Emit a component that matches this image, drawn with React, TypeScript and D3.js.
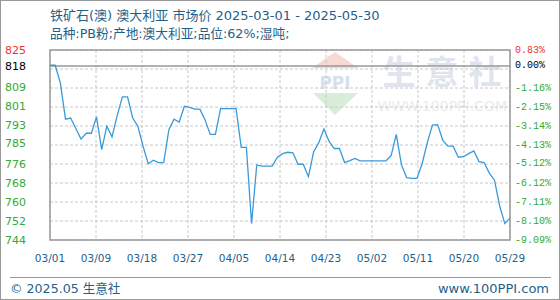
import React from "react";
import * as d3 from "d3";

const W = 560;
const H = 300;
const M = { left: 50, right: 510, top: 50, bottom: 240 };

const titleLine1 = "铁矿石(澳) 澳大利亚 市场价 2025-03-01 - 2025-05-30";
const titleLine2 = "品种:PB粉;产地:澳大利亚;品位:62%;湿吨;";
const footerLeft = "© 2025.05 生意社";
const footerRight = "www.100PPI.com";

const startDate = new Date(2025, 2, 1);

// daily prices 03/01 .. 05/29
const prices = [
  818.5, 818.5, 811, 795.5, 796, 791.5, 787, 789.5, 789.5, 796.5,
  782.5, 792.5, 788, 797, 805, 805, 796, 792.5, 784, 776.5,
  778, 777, 777, 791, 795.5, 794.3, 801, 800.5, 799.8, 799.8,
  795.2, 789, 789, 800, 800, 800, 800, 783.5, 783.5, 751,
  776, 775.5, 775.5, 775.5, 779.3, 780.8, 781.4, 781.2, 776.3, 776.3,
  771, 781.5, 785.5, 791.3, 786, 783, 783, 777, 777.8, 778.8,
  777.7, 777.7, 777.7, 777.7, 777.7, 777.7, 780, 789, 776, 770.6,
  770.3, 770.3, 776.5, 785.5, 793, 793.2, 786.5, 784, 784, 779.3,
  779.5, 780.8, 782, 777.4, 777, 772.5, 769.5, 758.5, 751, 753.3,
];

const xTickLabels = ["03/01", "03/09", "03/18", "03/27", "04/05", "04/14", "04/23", "05/02", "05/11", "05/20", "05/29"];
const leftLabels = ["825", "818", "809", "801", "793", "785", "776", "768", "760", "752", "744"];
const rightLabels = ["0.83%", "0.00%", "-1.16%", "-2.15%", "-3.14%", "-4.13%", "-5.12%", "-6.12%", "-7.11%", "-8.10%", "-9.09%"];

const BLUE_TEXT = "#1f5f8b";
const GREEN = "#33aa33";
const RED = "#ee3333";
const MIXED_FONT = "'DejaVu Sans', 'Noto Sans CJK SC', sans-serif";

export default function App() {
  const n = prices.length;
  const xScale = d3.scaleLinear().domain([0, n - 1]).range([M.left, M.right]);
  const yScale = d3.scaleLinear().domain([744, 825]).range([M.bottom, M.top]);
  const pctScale = d3.scaleLinear().domain([-9.09, 0.83]).range([M.bottom, M.top]);

  const data = prices.map((p, i) => ({ date: d3.timeDay.offset(startDate, i), i, p }));
  const line = d3
    .line<{ i: number; p: number }>()
    .x((d) => xScale(d.i))
    .y((d) => yScale(d.p));

  const gridYs = d3.range(11).map((k) => M.bottom - (k * (M.bottom - M.top)) / 10);
  const tickXs = xTickLabels.map((_, k) => xScale((k * (n - 1)) / (xTickLabels.length - 1)));
  const baseY = pctScale(0);

  const labelColor = (k: number) => (k === 0 ? RED : k === 1 ? "#000" : GREEN);

  return (
    <svg
      width={W}
      height={H}
      style={{ position: "absolute", left: 0, top: 0, background: "#fff" }}
      fontFamily={MIXED_FONT}
    >
      <rect x={0.5} y={0.5} width={W - 1} height={H - 1} fill="#fff" stroke="#999" />

      {/* titles */}
      <text x={50} y={15} fontSize={13} fill={BLUE_TEXT} dominantBaseline="central">
        {titleLine1}
      </text>
      <text x={50} y={33} fontSize={12.7} fill={BLUE_TEXT} dominantBaseline="central">
        {titleLine2}
      </text>

      {/* watermark */}
      <g>
        <polygon points="335,52 312,68 358,68" fill="#f8d8d2" />
        <text x={335} y={83} fontSize={17} fontWeight="bold" fill="#d9dfea" textAnchor="middle" dominantBaseline="central" fontFamily="'DejaVu Sans', sans-serif">
          PPI
        </text>
        <polygon points="313,93 358,93 335,115" fill="#d8eedb" />
        <text x={447} y={72} fontSize={33} fontWeight="bold" fill="#dfe4ee" textAnchor="middle" dominantBaseline="central" letterSpacing={10}>
          生意社
        </text>
        <text x={507} y={106} fontSize={14} fill="#ebebeb" textAnchor="end" dominantBaseline="central" fontFamily="'DejaVu Sans', sans-serif">
          WWW.100PPI.COM
        </text>
      </g>

      {/* grid */}
      {gridYs.map((y, k) => (
        <line key={"gy" + k} x1={M.left} x2={M.right} y1={y} y2={y} stroke="#c8c8c8" strokeDasharray="3,2" />
      ))}
      {tickXs.map((x, k) => (
        <line key={"gx" + k} x1={x} x2={x} y1={M.top} y2={M.bottom} stroke="#c8c8c8" strokeDasharray="3,2" />
      ))}

      {/* baseline */}
      <line x1={M.left} x2={M.right} y1={baseY} y2={baseY} stroke="#999" strokeWidth={1.5} />

      {/* frame */}
      <rect x={M.left} y={M.top} width={M.right - M.left} height={M.bottom - M.top} fill="none" stroke="#999" strokeWidth={1.5} />

      {/* series */}
      <path d={line(data) || ""} fill="none" stroke="#3a9ad9" strokeWidth={1.3} />

      {/* left labels */}
      {leftLabels.map((t, k) => (
        <text
          key={"l" + k}
          x={5}
          y={yScale(Number(t))}
          fontSize={11}
          fill={labelColor(k)}
          dominantBaseline="central"
          fontFamily="'DejaVu Sans', sans-serif"
        >
          {t}
        </text>
      ))}

      {/* right labels */}
      {rightLabels.map((t, k) => (
        <text
          key={"r" + k}
          x={515}
          y={pctScale(parseFloat(t))}
          fontSize={10}
          fill={labelColor(k)}
          dominantBaseline="central"
          fontFamily="'Liberation Mono', monospace"
        >
          {t}
        </text>
      ))}

      {/* x labels */}
      {xTickLabels.map((t, k) => (
        <text
          key={"x" + k}
          x={tickXs[k]}
          y={258}
          fontSize={10.5}
          fill={BLUE_TEXT}
          textAnchor="middle"
          dominantBaseline="central"
          fontFamily="'DejaVu Sans', sans-serif"
        >
          {t}
        </text>
      ))}

      {/* footer */}
      <line x1={10} x2={551} y1={277.5} y2={277.5} stroke="#999" />
      <text x={10} y={288} fontSize={12.6} fill={BLUE_TEXT} dominantBaseline="central">
        {footerLeft}
      </text>
      <text x={549} y={288} fontSize={13} fill={BLUE_TEXT} textAnchor="end" dominantBaseline="central" fontFamily="'DejaVu Sans', sans-serif">
        {footerRight}
      </text>
    </svg>
  );
}
